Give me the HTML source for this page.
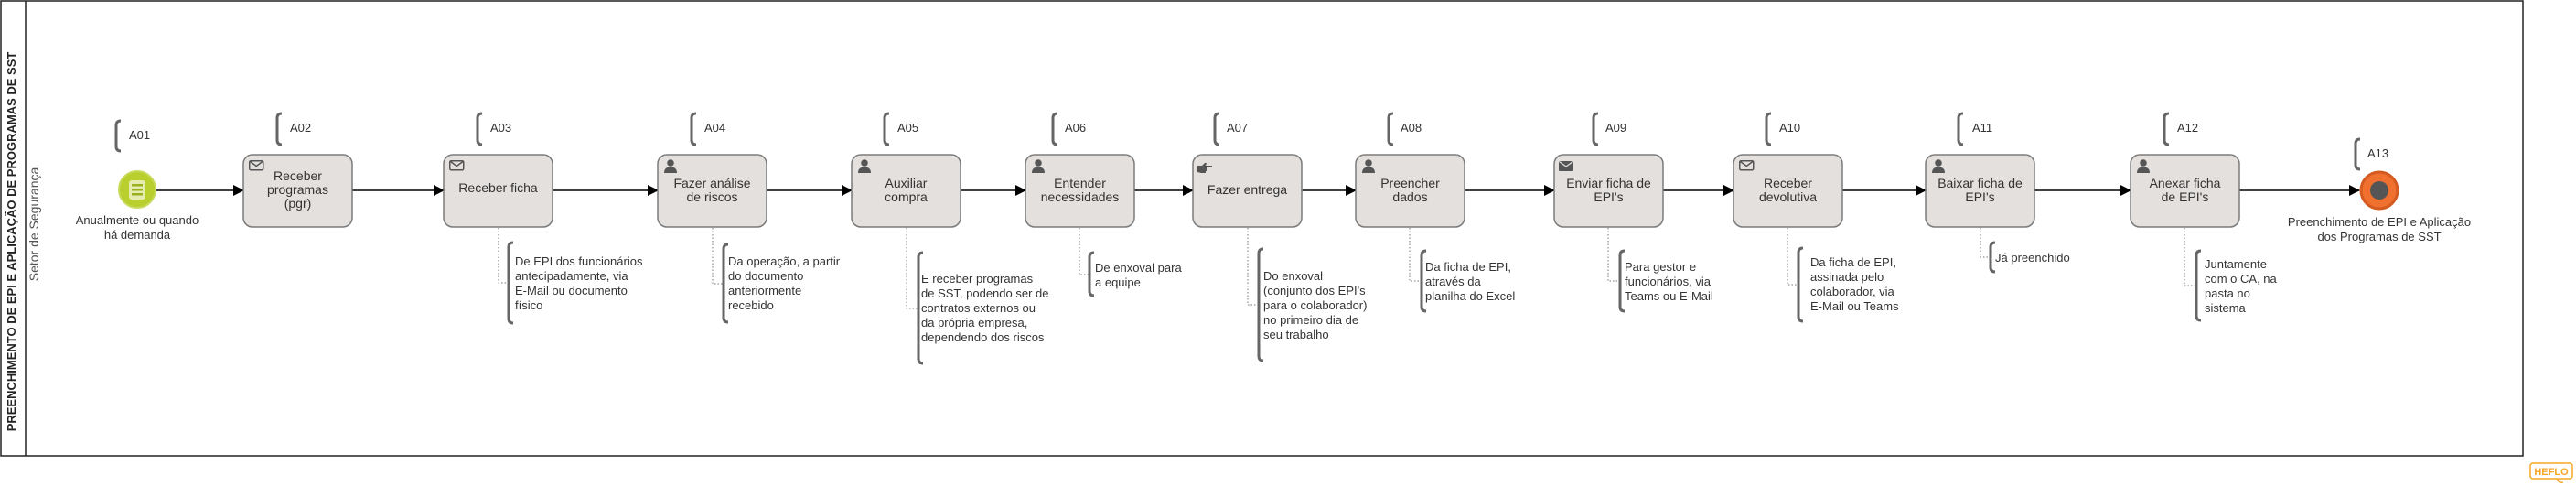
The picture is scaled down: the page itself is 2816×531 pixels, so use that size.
<!DOCTYPE html>
<html><head><meta charset="utf-8"><style>
html,body{margin:0;padding:0;background:#fff;}
svg{display:block;}
text{font-family:"Liberation Sans",sans-serif;fill:#333;}
.t{font-size:14px;text-anchor:middle;}
.a{font-size:13px;}
.l{font-size:13px;}
.task{fill:#e3e0de;stroke:#7b7b7b;stroke-width:1.5;}
.br{fill:none;stroke:#666;stroke-width:3;}
.dot{fill:none;stroke:#777;stroke-width:1;stroke-dasharray:1.5,2;}
.fl{stroke:#000;stroke-width:1.5;}
</style></head><body>
<svg width="2816" height="531" viewBox="0 0 2816 531" xmlns="http://www.w3.org/2000/svg">
<defs>
<marker id="ar" markerWidth="12" markerHeight="12" refX="11" refY="6" orient="auto" markerUnits="userSpaceOnUse">
<path d="M0,0 L12,6 L0,12 z" fill="#000"/></marker>
<g id="user"><circle cx="7" cy="4" r="3.8" fill="#555"/><path d="M0,15 Q0,8.5 7,8.5 Q14,8.5 14,15 z" fill="#555"/></g>
<g id="mail"><rect x="0.75" y="0.75" width="15" height="10" rx="1.5" fill="none" stroke="#555" stroke-width="1.5"/><path d="M1.5,1.5 L8.25,6.5 L15,1.5" fill="none" stroke="#555" stroke-width="1.5"/></g>
<g id="mailf"><rect x="0" y="0" width="16" height="11" rx="1" fill="#555"/><path d="M0.5,0.5 L8,6 L15.5,0.5" fill="none" stroke="#e3e0de" stroke-width="1.3"/></g>
<g id="hand"><path d="M0,5 h5 l3,-3 h2 l-1,3 h7 v2 h-5 v2 h-1 v2 h-1 v2 h-5 l-4,-1 z" fill="#555"/></g>
</defs>

<!-- pool -->
<rect x="1" y="1" width="2757" height="497" fill="#fff" stroke="#222" stroke-width="1.5"/>
<line x1="28" y1="1" x2="28" y2="498" stroke="#222" stroke-width="1.5"/>
<text transform="translate(17,264) rotate(-90)" text-anchor="middle" style="font-size:13px;font-weight:bold;fill:#222">PREENCHIMENTO DE EPI E APLICAÇÃO DE PROGRAMAS DE SST</text>
<text transform="translate(42,245) rotate(-90)" text-anchor="middle" style="font-size:14px;fill:#555">Setor de Segurança</text>

<!-- flows -->
<line class="fl" x1="171" y1="208" x2="266" y2="208" marker-end="url(#ar)"/>
<line class="fl" x1="385" y1="208" x2="485" y2="208" marker-end="url(#ar)"/>
<line class="fl" x1="604" y1="208" x2="719" y2="208" marker-end="url(#ar)"/>
<line class="fl" x1="838" y1="208" x2="931" y2="208" marker-end="url(#ar)"/>
<line class="fl" x1="1050" y1="208" x2="1121" y2="208" marker-end="url(#ar)"/>
<line class="fl" x1="1240" y1="208" x2="1304" y2="208" marker-end="url(#ar)"/>
<line class="fl" x1="1423" y1="208" x2="1482" y2="208" marker-end="url(#ar)"/>
<line class="fl" x1="1601" y1="208" x2="1699" y2="208" marker-end="url(#ar)"/>
<line class="fl" x1="1818" y1="208" x2="1895" y2="208" marker-end="url(#ar)"/>
<line class="fl" x1="2014" y1="208" x2="2105" y2="208" marker-end="url(#ar)"/>
<line class="fl" x1="2224" y1="208" x2="2329" y2="208" marker-end="url(#ar)"/>
<line class="fl" x1="2448" y1="208" x2="2579" y2="208" marker-end="url(#ar)"/>

<!-- start event -->
<circle cx="150" cy="207" r="20" fill="#b9cf2e" stroke="#c8da5c" stroke-width="2"/>
<rect x="141" y="197" width="18" height="21" rx="3" fill="#e4ecb0"/>
<rect x="144" y="201" width="12" height="2.5" fill="#9bb020"/>
<rect x="144" y="206" width="12" height="2.5" fill="#9bb020"/>
<rect x="144" y="211" width="12" height="2.5" fill="#9bb020"/>
<text class="l" x="150" y="245" text-anchor="middle">Anualmente ou quando</text>
<text class="l" x="150" y="261" text-anchor="middle">há demanda</text>

<!-- end event -->
<circle cx="2601" cy="208" r="20" fill="#f07030" stroke="#d45a20" stroke-width="3"/>
<circle cx="2601" cy="208" r="10" fill="#555"/>
<text class="l" x="2601" y="247" text-anchor="middle">Preenchimento de EPI e Aplicação</text>
<text class="l" x="2601" y="263" text-anchor="middle">dos Programas de SST</text>

<!-- label brackets -->
<g>
<path class="br" d="M132,132 Q127,132 127,137 V160 Q127,165 132,165"/><text class="a" x="141" y="152">A01</text>
<path class="br" d="M308,124 Q303,124 303,129 V153 Q303,158 308,158"/><text class="a" x="317" y="144">A02</text>
<path class="br" d="M527,124 Q522,124 522,129 V153 Q522,158 527,158"/><text class="a" x="536" y="144">A03</text>
<path class="br" d="M761,124 Q756,124 756,129 V153 Q756,158 761,158"/><text class="a" x="770" y="144">A04</text>
<path class="br" d="M972,124 Q967,124 967,129 V153 Q967,158 972,158"/><text class="a" x="981" y="144">A05</text>
<path class="br" d="M1156,124 Q1151,124 1151,129 V153 Q1151,158 1156,158"/><text class="a" x="1164" y="144">A06</text>
<path class="br" d="M1333,124 Q1328,124 1328,129 V153 Q1328,158 1333,158"/><text class="a" x="1341" y="144">A07</text>
<path class="br" d="M1523,124 Q1518,124 1518,129 V153 Q1518,158 1523,158"/><text class="a" x="1531" y="144">A08</text>
<path class="br" d="M1747,124 Q1742,124 1742,129 V153 Q1742,158 1747,158"/><text class="a" x="1755" y="144">A09</text>
<path class="br" d="M1936,124 Q1931,124 1931,129 V153 Q1931,158 1936,158"/><text class="a" x="1945" y="144">A10</text>
<path class="br" d="M2146,124 Q2141,124 2141,129 V153 Q2141,158 2146,158"/><text class="a" x="2156" y="144">A11</text>
<path class="br" d="M2371,124 Q2366,124 2366,129 V153 Q2366,158 2371,158"/><text class="a" x="2380" y="144">A12</text>
<path class="br" d="M2580,152 Q2575,152 2575,157 V180 Q2575,185 2580,185"/><text class="a" x="2588" y="172">A13</text>
</g>

<!-- tasks -->
<rect class="task" x="266" y="169" width="119" height="79" rx="10"/><use href="#mail" x="272" y="175"/>
<text class="t" x="325.5" y="197">Receber</text><text class="t" x="325.5" y="212">programas</text><text class="t" x="325.5" y="227">(pgr)</text>

<rect class="task" x="485" y="169" width="119" height="79" rx="10"/><use href="#mail" x="491" y="175"/>
<text class="t" x="544.5" y="210">Receber ficha</text>

<rect class="task" x="719" y="169" width="119" height="79" rx="10"/><use href="#user" x="726" y="174"/>
<text class="t" x="778.5" y="205">Fazer análise</text><text class="t" x="778.5" y="220">de riscos</text>

<rect class="task" x="931" y="169" width="119" height="79" rx="10"/><use href="#user" x="938" y="174"/>
<text class="t" x="990.5" y="205">Auxiliar</text><text class="t" x="990.5" y="220">compra</text>

<rect class="task" x="1121" y="169" width="119" height="79" rx="10"/><use href="#user" x="1128" y="174"/>
<text class="t" x="1180.5" y="205">Entender</text><text class="t" x="1180.5" y="220">necessidades</text>

<rect class="task" x="1304" y="169" width="119" height="79" rx="10"/><use href="#hand" x="1309" y="176"/>
<text class="t" x="1363.5" y="212">Fazer entrega</text>

<rect class="task" x="1482" y="169" width="119" height="79" rx="10"/><use href="#user" x="1489" y="174"/>
<text class="t" x="1541.5" y="205">Preencher</text><text class="t" x="1541.5" y="220">dados</text>

<rect class="task" x="1699" y="169" width="119" height="79" rx="10"/><use href="#mailf" x="1704" y="176"/>
<text class="t" x="1758.5" y="205">Enviar ficha de</text><text class="t" x="1758.5" y="220">EPI's</text>

<rect class="task" x="1895" y="169" width="119" height="79" rx="10"/><use href="#mail" x="1901" y="175"/>
<text class="t" x="1954.5" y="205">Receber</text><text class="t" x="1954.5" y="220">devolutiva</text>

<rect class="task" x="2105" y="169" width="119" height="79" rx="10"/><use href="#user" x="2112" y="174"/>
<text class="t" x="2164.5" y="205">Baixar ficha de</text><text class="t" x="2164.5" y="220">EPI's</text>

<rect class="task" x="2329" y="169" width="119" height="79" rx="10"/><use href="#user" x="2336" y="174"/>
<text class="t" x="2388.5" y="205">Anexar ficha</text><text class="t" x="2388.5" y="220">de EPI's</text>

<!-- annotations -->
<path class="dot" d="M545,249 V309 H555"/>
<path class="br" d="M561,265 Q556,265 556,270 V348 Q556,353 561,353"/>
<text class="a" x="563"><tspan x="563" y="290">De EPI dos funcionários</tspan><tspan x="563" y="306">antecipadamente, via</tspan><tspan x="563" y="322">E-Mail ou documento</tspan><tspan x="563" y="338">físico</tspan></text>

<path class="dot" d="M779,249 V310 H790"/>
<path class="br" d="M796,267 Q791,267 791,272 V347 Q791,352 796,352"/>
<text class="a"><tspan x="796" y="290">Da operação, a partir</tspan><tspan x="796" y="306">do documento</tspan><tspan x="796" y="322">anteriormente</tspan><tspan x="796" y="338">recebido</tspan></text>

<path class="dot" d="M991,249 V337 H1003"/>
<path class="br" d="M1009,276 Q1004,276 1004,281 V392 Q1004,397 1009,397"/>
<text class="a"><tspan x="1007" y="309">E receber programas</tspan><tspan x="1007" y="325">de SST, podendo ser de</tspan><tspan x="1007" y="341">contratos externos ou</tspan><tspan x="1007" y="357">da própria empresa,</tspan><tspan x="1007" y="373">dependendo dos riscos</tspan></text>

<path class="dot" d="M1180,249 V300 H1190"/>
<path class="br" d="M1196,276 Q1191,276 1191,281 V318 Q1191,323 1196,323"/>
<text class="a"><tspan x="1197" y="297">De enxoval para</tspan><tspan x="1197" y="313">a equipe</tspan></text>

<path class="dot" d="M1364,249 V333 H1375"/>
<path class="br" d="M1381,272 Q1376,272 1376,277 V389 Q1376,394 1381,394"/>
<text class="a"><tspan x="1381" y="306">Do enxoval</tspan><tspan x="1381" y="322">(conjunto dos EPI's</tspan><tspan x="1381" y="338">para o colaborador)</tspan><tspan x="1381" y="354">no primeiro dia de</tspan><tspan x="1381" y="370">seu trabalho</tspan></text>

<path class="dot" d="M1541,249 V307 H1553"/>
<path class="br" d="M1559,274 Q1554,274 1554,279 V335 Q1554,340 1559,340"/>
<text class="a"><tspan x="1558" y="296">Da ficha de EPI,</tspan><tspan x="1558" y="312">através da</tspan><tspan x="1558" y="328">planilha do Excel</tspan></text>

<path class="dot" d="M1758,249 V307 H1770"/>
<path class="br" d="M1776,274 Q1771,274 1771,279 V335 Q1771,340 1776,340"/>
<text class="a"><tspan x="1776" y="296">Para gestor e</tspan><tspan x="1776" y="312">funcionários, via</tspan><tspan x="1776" y="328">Teams ou E-Mail</tspan></text>

<path class="dot" d="M1954,249 V311 H1965"/>
<path class="br" d="M1971,271 Q1966,271 1966,276 V346 Q1966,351 1971,351"/>
<text class="a"><tspan x="1979" y="291">Da ficha de EPI,</tspan><tspan x="1979" y="307">assinada pelo</tspan><tspan x="1979" y="323">colaborador, via</tspan><tspan x="1979" y="339">E-Mail ou Teams</tspan></text>

<path class="dot" d="M2165,249 V281 H2175"/>
<path class="br" d="M2181,265 Q2176,265 2176,270 V292 Q2176,297 2181,297"/>
<text class="a"><tspan x="2181" y="286">Já preenchido</tspan></text>

<path class="dot" d="M2388,249 V312 H2400"/>
<path class="br" d="M2406,274 Q2401,274 2401,279 V345 Q2401,350 2406,350"/>
<text class="a"><tspan x="2410" y="293">Juntamente</tspan><tspan x="2410" y="309">com o CA, na</tspan><tspan x="2410" y="325">pasta no</tspan><tspan x="2410" y="341">sistema</tspan></text>

<!-- HEFLO logo -->
<rect x="2766" y="506" width="46" height="17" rx="3" fill="#fff" stroke="#f5a623" stroke-width="1.5"/>
<path d="M2796,523 q0,5 6,4" fill="none" stroke="#f5a623" stroke-width="1.5"/>
<text x="2789" y="519" text-anchor="middle" style="font-size:11px;font-weight:bold;fill:#f5a623">HEFLO</text>
</svg>
</body></html>
